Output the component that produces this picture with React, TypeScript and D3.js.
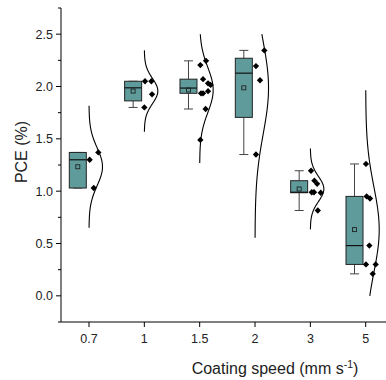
import React from "react";
import * as d3 from "d3";

const categories = ["0.7", "1", "1.5", "2", "3", "5"];
const pceValues: number[][] = [
  [1.37, 1.3, 1.03],
  [2.05, 2.05, 1.925, 1.8],
  [2.245, 2.205, 2.07, 2.03, 2.015, 1.955, 1.935, 1.935, 1.785, 1.49],
  [2.345, 2.195, 2.06, 1.35],
  [1.195, 1.1, 1.07, 0.99, 0.99, 0.985, 0.815],
  [1.26, 0.95, 0.93, 0.48, 0.3, 0.3, 0.21],
];
// horizontal scatter of the overlapped points, as a fraction of the curve width
const jitter: number[][] = [
  [0.69, 0.05, 0.35],
  [0.05, 0.52, 0.57, 0.0],
  [0.47, 0.05, 0.25, 0.62, 0.81, 0.62, 0.1, 0.25, 0.44, 0.05],
  [0.69, 0.07, 0.37, 0.07],
  [0.05, 0.3, 0.5, 0.1, 0.27, 0.77, 0.55],
  [0.02, 0.07, 0.32, 0.27, 0.02, 0.74, 0.52],
];
const yTicks = [0, 0.5, 1.0, 1.5, 2.0, 2.5];
const yMinorTicks = [-0.25, 0.25, 0.75, 1.25, 1.75, 2.25, 2.75];

const W = 386;
const H = 380;
const axisX = 61;
const axisY = 322;
const BOX_FILL = "#5f9b9b";
const CURVE_W = 13.5;
const BOX_W = 17;
const BOX_OFF = -11.2;

function median(a: number[]) {
  const s = [...a].sort((p, q) => p - q);
  const n = s.length;
  return n % 2 ? s[(n - 1) / 2] : (s[n / 2 - 1] + s[n / 2]) / 2;
}
function stats(vals: number[]) {
  const s = [...vals].sort((p, q) => p - q);
  const n = s.length;
  const half = Math.floor(n / 2);
  const lower = s.slice(0, half);
  const upper = s.slice(n - half);
  const q1 = median(lower);
  const q3 = median(upper);
  const med = median(s);
  const iqr = q3 - q1;
  const lf = q1 - 1.5 * iqr - 1e-9;
  const uf = q3 + 1.5 * iqr + 1e-9;
  const wLo = d3.min(s.filter((v) => v >= lf)) as number;
  const wHi = d3.max(s.filter((v) => v <= uf)) as number;
  const mean = d3.mean(s) as number;
  const sd = d3.deviation(s) as number;
  return { q1, q3, med, wLo, wHi, mean, sd };
}

export default function App() {
  const y = d3.scaleLinear().domain([-0.25, 2.75]).range([axisY, 8]);
  const x = d3.scalePoint<string>().domain(categories).range([89, 365.7]);

  const font = "'Liberation Sans', Arial, sans-serif";
  const diamond = d3.symbol(d3.symbolSquare, 20)() as string;

  return (
    <svg width={W} height={H} style={{ position: "absolute", left: 0, top: 0 }} fontFamily={font}>
      <rect width={W} height={H} fill="#fff" />
      {categories.map((c, i) => {
        const vals = pceValues[i];
        const st = stats(vals);
        const cx = x(c) as number;
        const bx = cx + BOX_OFF;
        const lo = Math.max(0, st.mean - 3.25 * st.sd);
        const hi = Math.min(2.5, st.mean + 3.25 * st.sd);
        const pts = d3.range(0, 121).map((k) => lo + ((hi - lo) * k) / 120);
        const line = d3
          .line<number>()
          .x((v) => cx + CURVE_W * Math.exp(-0.5 * ((v - st.mean) / st.sd) ** 2))
          .y((v) => y(v))
          .curve(d3.curveBasis);
        return (
          <g key={c}>
            {/* whiskers */}
            <line x1={bx} x2={bx} y1={y(st.wHi)} y2={y(st.q3)} stroke="#444" strokeWidth={1} />
            <line x1={bx} x2={bx} y1={y(st.q1)} y2={y(st.wLo)} stroke="#444" strokeWidth={1} />
            <line x1={bx - 4.5} x2={bx + 4.5} y1={y(st.wHi)} y2={y(st.wHi)} stroke="#444" strokeWidth={1} />
            <line x1={bx - 4.5} x2={bx + 4.5} y1={y(st.wLo)} y2={y(st.wLo)} stroke="#444" strokeWidth={1} />
            {/* box */}
            <rect
              x={bx - BOX_W / 2}
              y={y(st.q3)}
              width={BOX_W}
              height={Math.max(0.5, y(st.q1) - y(st.q3))}
              fill={BOX_FILL}
              stroke="#222"
              strokeWidth={1}
            />
            <line x1={bx - BOX_W / 2} x2={bx + BOX_W / 2} y1={y(st.med)} y2={y(st.med)} stroke="#111" strokeWidth={1.2} />
            <rect x={bx - 2} y={y(st.mean) - 2} width={4} height={4} fill="none" stroke="#222" strokeWidth={0.9} />
            {/* curve */}
            <path d={line(pts) as string} fill="none" stroke="#000" strokeWidth={1.1} />
            {/* points */}
            {vals.map((v, j) => (
              <path
                key={j}
                d={diamond}
                transform={`translate(${cx + jitter[i][j] * CURVE_W},${y(v)}) rotate(45)`}
                fill="#000"
              />
            ))}
          </g>
        );
      })}
      {/* y axis */}
      <line x1={axisX} x2={axisX} y1={8} y2={axisY} stroke="#000" strokeWidth={1} />
      {yTicks.map((t) => (
        <g key={t}>
          <line x1={axisX - 5} x2={axisX} y1={y(t)} y2={y(t)} stroke="#000" strokeWidth={1} />
          <text x={axisX - 8} y={y(t)} dy="0.36em" textAnchor="end" fontSize={12.5} fill="#222">
            {t.toFixed(1)}
          </text>
        </g>
      ))}
      {yMinorTicks.map((t) => (
        <line key={t} x1={axisX - 3} x2={axisX} y1={y(t)} y2={y(t)} stroke="#000" strokeWidth={1} />
      ))}
      {/* x axis */}
      <line x1={axisX} x2={W + 10} y1={axisY} y2={axisY} stroke="#000" strokeWidth={1} />
      {categories.map((c) => (
        <g key={c}>
          <line x1={x(c)} x2={x(c)} y1={axisY} y2={axisY + 5} stroke="#000" strokeWidth={1} />
          <text x={x(c)} y={343} textAnchor="middle" fontSize={12.5} fill="#222">
            {c}
          </text>
        </g>
      ))}
      <text x={275} y={374} textAnchor="middle" fontSize={16} fill="#222">
        Coating speed (mm s
        <tspan dy={-6} fontSize={10.5}>-1</tspan>
        <tspan dy={6}>)</tspan>
      </text>
      <text
        transform={`translate(27,${152}) rotate(-90)`}
        textAnchor="middle"
        fontSize={16}
        fill="#222"
      >
        PCE (%)
      </text>
    </svg>
  );
}
